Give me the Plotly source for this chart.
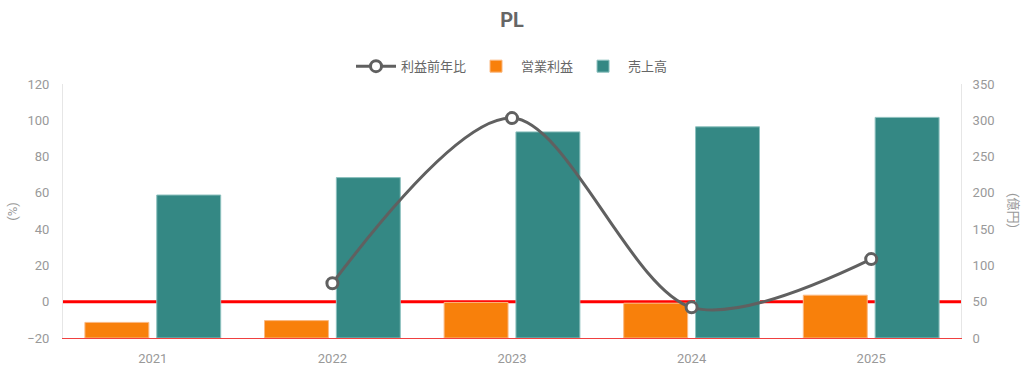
import plotly.graph_objects as go

years = ["2021", "2022", "2023", "2024", "2025"]
op_profit = [21.5, 24, 49, 48, 59]          # 営業利益 (億円)
sales = [197, 221, 284, 291, 304]           # 売上高 (億円)
profit_yoy = [None, 10.2, 101.2, -3.1, 23.5]  # 利益前年比 (%)

FONT = "Roboto, 'Noto Sans CJK JP', sans-serif"
GRAY = "#999999"

fig = go.Figure()
fig.add_trace(go.Scatter(
    x=years, y=profit_yoy, name="利益前年比", yaxis="y2",
    mode="lines+markers", line=dict(color="#606060", width=3, shape="spline", smoothing=0.9),
    marker=dict(symbol="circle", size=11, color="white", line=dict(color="#606060", width=3)),
))
fig.add_trace(go.Bar(
    x=years, y=op_profit, name="営業利益", yaxis="y",
    marker=dict(color="#F8800B", line=dict(color="#FBB880", width=1)),
))
fig.add_trace(go.Bar(
    x=years, y=sales, name="売上高", yaxis="y",
    marker=dict(color="#348884", line=dict(color="#8CC0BE", width=1)),
))

fig.update_layout(
    width=1024, height=371,
    margin=dict(l=63, r=63, t=84, b=33, autoexpand=False),
    paper_bgcolor="white", plot_bgcolor="white",
    font=dict(family=FONT, color=GRAY, size=13),
    title=dict(text="<b>PL</b>", x=0.5, xanchor="center", y=0.945, yanchor="middle",
               font=dict(size=20, color="#666666", family=FONT)),
    barmode="group", bargap=0.2, bargroupgap=0.11,
    showlegend=True,
    legend=dict(orientation="h", x=0.5, xanchor="center", y=1.07, yanchor="middle",
                font=dict(size=13, color="#666666"), traceorder="normal",
                itemwidth=40),
    xaxis=dict(type="category", showgrid=False, showline=True, linecolor="#F04040", linewidth=1,
               ticks="", tickfont=dict(size=13, color=GRAY), ticklabelstandoff=8,
               automargin=False),
    yaxis=dict(range=[0, 350], dtick=50, side="right", showgrid=False,
               zeroline=False, showline=True, linecolor="#E6E6E6", linewidth=1, ticks="",
               tickfont=dict(size=13, color=GRAY), ticklabelstandoff=8, automargin=False),
    yaxis2=dict(range=[-20, 120], dtick=20, overlaying="y", side="left", showgrid=False,
                zeroline=False, showline=True, linecolor="#E6E6E6",
                linewidth=1, ticks="", tickfont=dict(size=13, color=GRAY), ticklabelstandoff=10,
                automargin=False),
    shapes=[
        dict(type="line", xref="paper", yref="y2", x0=0, x1=1, y0=0, y1=0,
             line=dict(color="#FF0000", width=3), layer="below"),
    ],
    annotations=[
        dict(text="(%)", xref="paper", yref="paper", x=-0.057, y=0.5, textangle=-90,
             showarrow=False, font=dict(size=13, color=GRAY), xanchor="center", yanchor="middle"),
        dict(text="(億円)", xref="paper", yref="paper", x=1.059, y=0.5, textangle=90,
             showarrow=False, font=dict(size=13, color=GRAY), xanchor="center", yanchor="middle"),
    ],
)

fig.write_html("out.html", config={"displayModeBar": False},
               post_script=["document.body.style.margin='0';document.body.style.overflow='hidden';"])
